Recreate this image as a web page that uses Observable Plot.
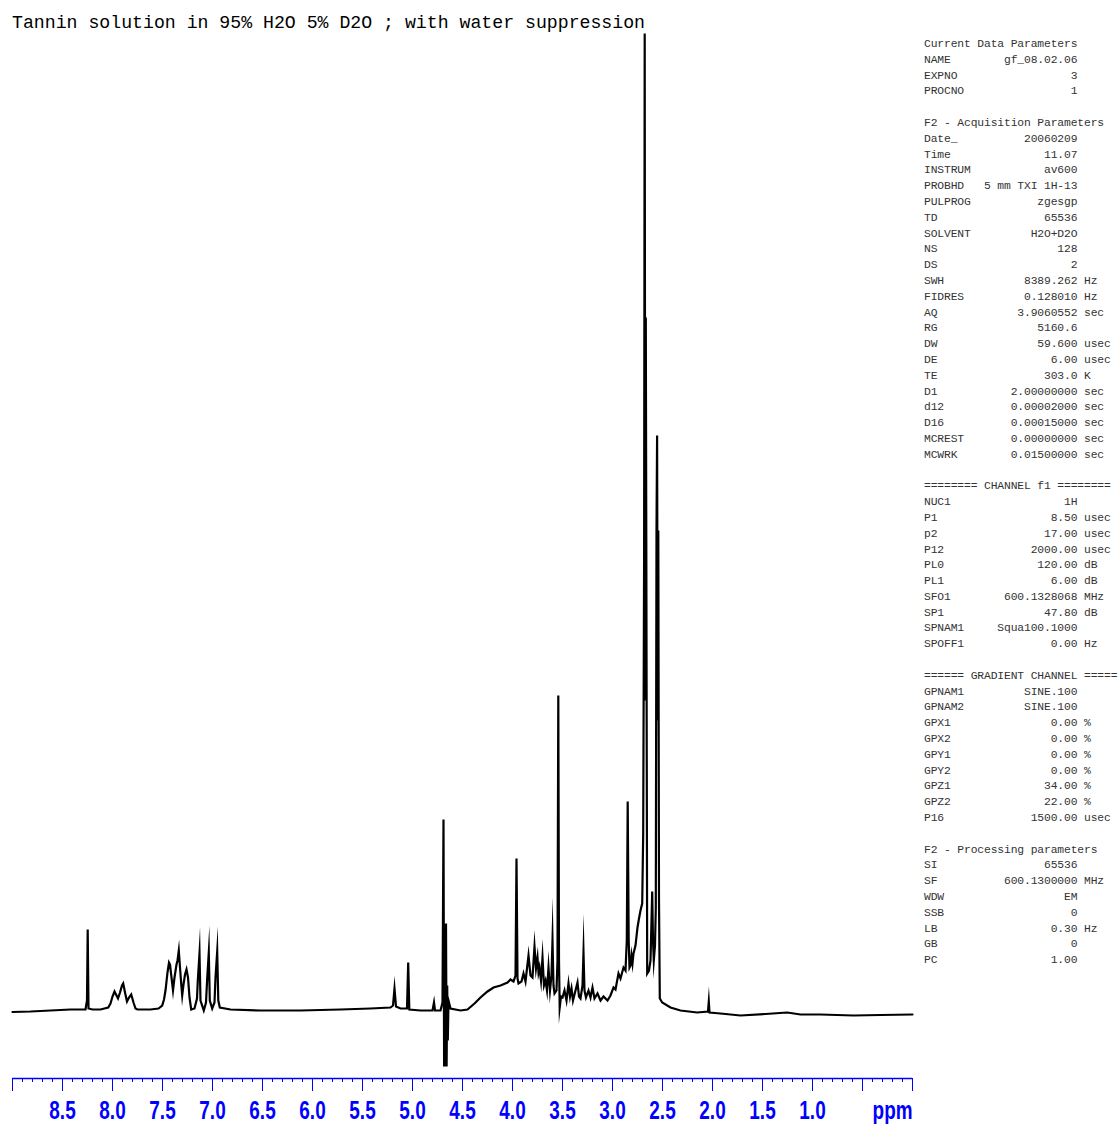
<!DOCTYPE html>
<html><head><meta charset="utf-8">
<script src="https://cdn.jsdelivr.net/npm/d3@7"></script>
<script src="https://cdn.jsdelivr.net/npm/@observablehq/plot@0.6"></script>
<style>
body{margin:0;background:#fff;}
#wrap{position:relative;width:1119px;height:1124px;overflow:hidden;background:#fff;}
#wrap svg{position:absolute;left:0;top:0;}
#title{position:absolute;left:12px;top:13px;font-family:"Liberation Mono",monospace;font-size:18.2px;line-height:20px;white-space:pre;color:#000;}
#params{position:absolute;left:924px;top:37px;font-family:"Liberation Mono",monospace;font-size:11.33px;line-height:15.79px;letter-spacing:-0.13px;white-space:pre;color:#333;margin:0;}
</style></head>
<body>
<div id="wrap">
  <div id="title"></div>
  <pre id="params"></pre>
</div>
<script>
const titleText = "Tannin solution in 95% H2O 5% D2O ; with water suppression";

// spectrum vertices: [ppm, intensity]
const spectrumAromatic = [[9.00,0.5],[8.82,1],[8.62,2],[8.42,3],[8.27,3],[8.255,12],[8.248,83],[8.24,4],[8.20,3],[8.12,3],[8.043,5],[8.02,9],[8.0,16],[7.98,21],[7.965,18],[7.945,14],[7.925,20],[7.905,27],[7.893,29],[7.875,20],[7.855,11],[7.835,15],[7.813,18],[7.79,10],[7.77,4],[7.75,3],[7.62,3],[7.54,4],[7.503,7],[7.485,13],[7.47,22],[7.45,40],[7.435,50],[7.425,48],[7.41,35],[7.395,22],[7.38,35],[7.36,48],[7.35,52],[7.337,62],[7.325,45],[7.31,25],[7.303,17],[7.29,28],[7.275,38],[7.26,43],[7.245,35],[7.23,15],[7.213,3],[7.18,4],[7.155,14],[7.147,32],[7.13,59],[7.12,12],[7.087,2],[7.065,10],[7.053,34],[7.037,60],[7.027,12],[7.003,4],[6.98,10],[6.97,35],[6.953,61],[6.942,12],[6.927,5],[6.82,3],[6.52,2]];
const spectrumMid = [[6.12,2],[5.72,3],[5.42,4],[5.22,5],[5.195,7],[5.18,24],[5.165,6],[5.12,4],[5.055,4],[5.043,50],[5.032,3],[4.92,2],[4.80,2],[4.785,10],[4.775,2],[4.72,2],[4.70,10],[4.69,193],[4.684,-54],[4.677,22],[4.671,-54],[4.665,89],[4.659,-54],[4.653,27],[4.647,-28],[4.64,12],[4.62,4],[4.52,2],[4.45,3],[4.38,9],[4.32,15],[4.25,21],[4.19,25],[4.12,27],[4.05,30],[4.02,33]];
const spectrumSugar = [[3.99,31],[3.97,37],[3.96,154],[3.95,34],[3.94,29],[3.91,31],[3.89,39],[3.87,31],[3.84,57],[3.82,37],[3.80,35],[3.78,66],[3.765,44],[3.75,55],[3.74,40],[3.73,45],[3.715,32],[3.70,55],[3.685,27],[3.67,32],[3.655,22],[3.64,45],[3.625,22],[3.61,37],[3.60,72],[3.59,27],[3.58,19],[3.56,22],[3.55,52],[3.542,317],[3.535,52],[3.528,5],[3.515,16],[3.50,15],[3.48,22],[3.46,12],[3.44,29],[3.425,16],[3.41,24],[3.395,12],[3.37,22],[3.35,30],[3.335,16],[3.32,14],[3.30,27],[3.29,60],[3.28,22],[3.265,15],[3.24,22],[3.22,15],[3.20,25],[3.18,14],[3.15,19],[3.12,12],[3.09,16],[3.05,12],[3.02,17]];
const spectrumAliphatic = [[2.99,25],[2.97,23],[2.94,39],[2.92,34],[2.89,45],[2.87,42],[2.857,72],[2.848,211],[2.838,72],[2.83,45],[2.82,47],[2.81,57],[2.80,49],[2.79,59],[2.77,67],[2.75,85],[2.735,94],[2.72,102],[2.703,109],[2.693,179],[2.684,452],[2.678,979],[2.672,312],[2.667,695],[2.662,472],[2.653,39],[2.635,42],[2.62,52],[2.61,92],[2.603,121],[2.595,72],[2.587,52],[2.575,67],[2.567,105],[2.56,482],[2.554,577],[2.548,292],[2.542,482],[2.535,112],[2.527,14],[2.503,10]];
const spectrumUpfield = [[2.42,5],[2.32,2],[2.153,0],[2.045,1],[2.037,11],[2.03,0],[1.92,-1],[1.72,-3],[1.47,-1.5],[1.253,0],[1.12,-2],[0.92,-2],[0.59,-3],[0.32,-2.5],[0.0,-2]];

const majorTicks = [9.0,8.5,8.0,7.5,7.0,6.5,6.0,5.5,5.0,4.5,4.0,3.5,3.0,2.5,2.0,1.5,1.0,0.5,0.0];
const labelPositions = [8.5,8.0,7.5,7.0,6.5,6.0,5.5,5.0,4.5,4.0,3.5,3.0,2.5,2.0,1.5,1.0];
const tickLabels = ["8.5","8.0","7.5","7.0","6.5","6.0","5.5","5.0","4.5","4.0","3.5","3.0","2.5","2.0","1.5","1.0"];
const unitLabel = "ppm";

// parameter block
const headerCurrent = "Current Data Parameters";
const rowsCurrent = [["NAME","gf_08.02.06",""],["EXPNO","3",""],["PROCNO","1",""]];
const headerAcq = "F2 - Acquisition Parameters";
const rowsAcq = [["Date_","20060209",""],["Time","11.07",""],["INSTRUM","av600",""],["PROBHD","5 mm TXI 1H-13",""],["PULPROG","zgesgp",""],["TD","65536",""],["SOLVENT","H2O+D2O",""],["NS","128",""],["DS","2",""],["SWH","8389.262","Hz"],["FIDRES","0.128010","Hz"],["AQ","3.9060552","sec"],["RG","5160.6",""],["DW","59.600","usec"],["DE","6.00","usec"],["TE","303.0","K"],["D1","2.00000000","sec"],["d12","0.00002000","sec"],["D16","0.00015000","sec"],["MCREST","0.00000000","sec"],["MCWRK","0.01500000","sec"]];
const headerF1 = "======== CHANNEL f1 ========";
const rowsF1 = [["NUC1","1H",""],["P1","8.50","usec"],["p2","17.00","usec"],["P12","2000.00","usec"],["PL0","120.00","dB"],["PL1","6.00","dB"],["SFO1","600.1328068","MHz"],["SP1","47.80","dB"],["SPNAM1","Squa100.1000",""],["SPOFF1","0.00","Hz"]];
const headerGrad = "====== GRADIENT CHANNEL =====";
const rowsGrad = [["GPNAM1","SINE.100",""],["GPNAM2","SINE.100",""],["GPX1","0.00","%"],["GPX2","0.00","%"],["GPY1","0.00","%"],["GPY2","0.00","%"],["GPZ1","34.00","%"],["GPZ2","22.00","%"],["P16","1500.00","usec"]];
const headerProc = "F2 - Processing parameters";
const rowsProc = [["SI","65536",""],["SF","600.1300000","MHz"],["WDW","EM",""],["SSB","0",""],["LB","0.30","Hz"],["GB","0",""],["PC","1.00",""]];

document.getElementById("title").textContent = titleText;
const fmtRow = ([l, v, u]) => l + v.padStart(Math.max(23 - l.length, v.length + 1)) + (u ? " " + u : "");
const sections = [[headerCurrent, rowsCurrent],[headerAcq, rowsAcq],[headerF1, rowsF1],[headerGrad, rowsGrad],[headerProc, rowsProc]];
document.getElementById("params").textContent = sections.map(([h, rows]) => [h, ...rows.map(fmtRow)].join("\n")).join("\n\n");

const spectrum = [...spectrumAromatic, ...spectrumMid, ...spectrumSugar, ...spectrumAliphatic, ...spectrumUpfield]
  .map(([ppm, intensity]) => ({ppm, intensity}));
const minorTicks = d3.range(0, 91).map(i => i / 10);
const blue = "#0000ff";
const labelFont = '"Liberation Sans Narrow","Arial Narrow","Liberation Sans",Arial,sans-serif';

const chart = Plot.plot({
  width: 1119, height: 1124,
  marginLeft: 12, marginRight: 207, marginTop: 12, marginBottom: 46,
  x: {domain: [9, 0]},
  y: {domain: [-66, 1000], axis: null},
  style: {background: "transparent", overflow: "visible"},
  marks: [
    Plot.axisX({ticks: minorTicks, tickSize: 4, text: null, stroke: blue, strokeWidth: 1, label: null}),
    Plot.axisX({ticks: majorTicks, tickSize: 13, text: null, stroke: blue, strokeWidth: 1, label: null}),
    Plot.axisX({ticks: labelPositions, tickSize: 0, tickPadding: 0, label: null,
      tickFormat: d => tickLabels[labelPositions.indexOf(d)], fill: blue,
      fontSize: 22, fontWeight: "bold", fontFamily: labelFont}),
    Plot.axisX({ticks: [0], tickSize: 0, tickPadding: 0, label: null, tickFormat: () => unitLabel,
      textAnchor: "end", fill: blue, fontSize: 22, fontWeight: "bold", fontFamily: labelFont}),
    Plot.ruleY([-66], {stroke: blue, strokeWidth: 1.5}),
    Plot.line(spectrum, {x: "ppm", y: "intensity", stroke: "#000", strokeWidth: 2.2, strokeLinejoin: "miter", strokeMiterlimit: 40})
  ]
});
chart.querySelectorAll('g[aria-label="x-axis tick label"] text').forEach(t => {
  const tr = t.getAttribute("transform") || "";
  t.setAttribute("transform", `${tr} translate(0,21.5) scale(0.86,1.2)`);
});
document.getElementById("wrap").prepend(chart);
</script>
</body></html>
